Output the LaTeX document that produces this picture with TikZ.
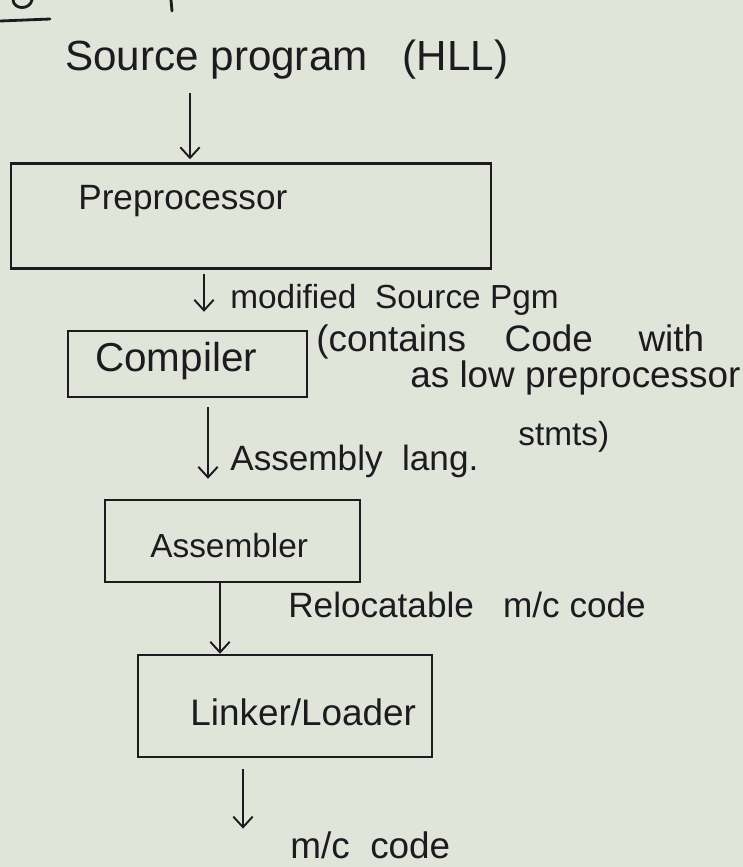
\documentclass[tikz,border=0pt]{standalone}
\usepackage{fontspec}
\setmainfont{Liberation Sans}
\usetikzlibrary{arrows.meta}
\definecolor{paper}{RGB}{224,228,217}
\definecolor{ink}{RGB}{28,28,32}
\tikzset{
  stagebox/.style={draw=ink, line width=1.4pt, inner sep=0pt},
  hand/.style={text=ink, inner sep=0pt, anchor=west, font=\fontsize{20}{24}\selectfont},
  flow/.style={draw=ink, line width=1.1pt, -{Straight Barb[length=6pt,width=11pt]}},
  scrap/.style={draw=ink, line width=1.6pt, line cap=round}
}
\begin{document}
\begin{tikzpicture}[x=0.02cm, y=-0.02cm]
  \fill[paper] (0,0) rectangle (743,867);
  \useasboundingbox (0,0) rectangle (743,867);
  % fragments of the cut-off heading
  \draw[scrap] (0,21) -- (50,19);
  \draw[scrap] (13,0) .. controls (14,10) and (30,10) .. (32,0);
  \draw[scrap] (171,0) -- (172,11);

  % texts
  \node[hand, font=\fontsize{24}{28}\selectfont] (src) at (65,60) {Source program \ \ (HLL)};

  % boxes
  \node[stagebox, minimum width=9.6cm, minimum height=2.1cm] (pre) at (251,216) {};
  \node[stagebox, minimum width=4.78cm, minimum height=1.32cm] (cmp) at (187.5,364) {};
  \node[stagebox, minimum width=5.1cm, minimum height=1.64cm] (asm) at (232.5,541) {};
  \node[stagebox, minimum width=5.88cm, minimum height=2.04cm] (lnk) at (285,706) {};

  % box texts
  \node[hand] (pret) at (78,201) {Preprocessor};
  \node[hand, font=\fontsize{23}{27}\selectfont] (cmpt) at (95,361) {Compiler};
  \node[hand, font=\fontsize{19}{23}\selectfont] (asmt) at (150,546) {Assembler};
  \node[hand, font=\fontsize{21}{25}\selectfont] (lnkt) at (190,712) {Linker/Loader};

  % labels
  \node[hand, font=\fontsize{19}{23}\selectfont] (mod) at (230,300) {modified \ Source Pgm};
  \node[hand, font=\fontsize{21}{25}\selectfont] (con1) at (316,342) {(contains\hspace{22pt}Code\hspace{26pt}with};
  \node[hand, font=\fontsize{21}{25}\selectfont] (con2) at (410,378) {as low preprocessor};
  \node[hand, font=\fontsize{19}{23}\selectfont] (con3) at (518,437) {stmts)};
  \node[hand] (asml) at (230,461) {Assembly \ lang.};
  \node[hand] (rel) at (288,605) {Relocatable \ \ m/c code};
  \node[hand, font=\fontsize{21}{25}\selectfont] (mc) at (290,845) {m/c \ code};

  % arrow x positions
  \coordinate (a1) at (190,0);
  \coordinate (a2) at (204,0);
  \coordinate (a3) at (208,0);
  \coordinate (a4) at (220,0);
  \coordinate (a5) at (243,0);

  % connectors
  \draw[flow, shorten <=0.25cm, shorten >=0.06cm] (src.south -| a1) -- (pre.north -| a1);
  \draw[flow, shorten <=0.08cm, shorten >=0.36cm] (pre.south -| a2) -- (cmp.north -| a2);
  \draw[flow, shorten <=0.18cm, shorten >=0.4cm] (cmp.south -| a3) -- (asm.north -| a3);
  \draw[flow] (asm.south -| a4) -- (lnk.north -| a4);
  \draw[flow, shorten <=0.22cm, shorten >=0.05cm] (lnk.south -| a5) -- (mc.north -| a5);
\end{tikzpicture}
\end{document}
